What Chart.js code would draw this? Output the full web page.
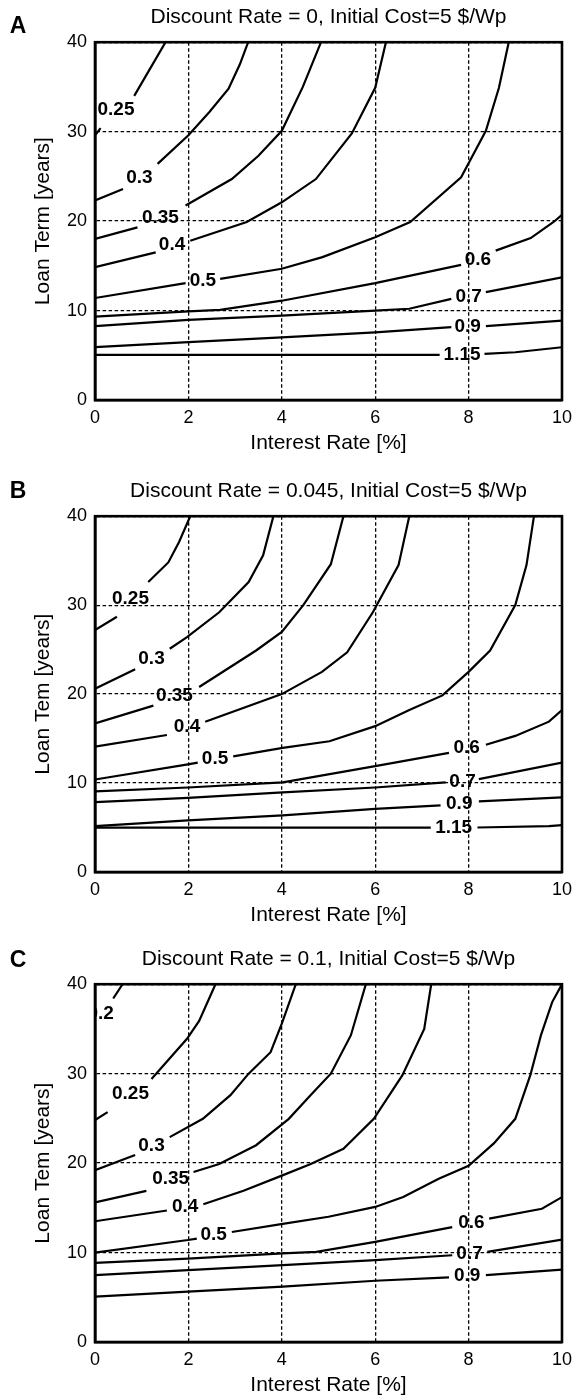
<!DOCTYPE html>
<html>
<head>
<meta charset="utf-8">
<title>Loan term vs interest rate</title>
<script src="https://cdn.jsdelivr.net/npm/chart.js@4.4.1/dist/chart.umd.min.js"></script>
<style>
  html, body { margin: 0; padding: 0; background: #fff; }
  #page { position: relative; width: 579px; height: 1398px; }
  .panel { position: absolute; left: 0; width: 579px; }
</style>
</head>
<body>
<div id="page">
  <div class="panel" style="top:0;height:465px"><canvas id="chart-a"></canvas></div>
  <div class="panel" style="top:465px;height:470px"><canvas id="chart-b"></canvas></div>
  <div class="panel" style="top:935px;height:463px"><canvas id="chart-c"></canvas></div>
</div>
<script>
// axis ticks
const xTicks = [0, 2, 4, 6, 8, 10]
const yTicks = [0, 10, 20, 30, 40]

// contour lines, [interest rate %, loan term years], null = gap for the label

// A: discount rate 0
const levelsA = ["0.25", "0.3", "0.35", "0.4", "0.5", "0.6", "0.7", "0.9", "1.15"]
const a025 = [[0, 29.6], [0.12, 30.4], null, [0.84, 34.0], [1.51, 40]]
const a030 = [[0, 22.3], [0.6, 23.6], null, [1.34, 26.4], [2, 29.6], [2.45, 32.2], [2.86, 34.8], [3.1, 37.5], [3.28, 40]]
const a035 = [[0, 18.0], [0.91, 19.3], null, [1.94, 21.75], [2.93, 24.7], [3.5, 27.3], [4, 30.1], [4.45, 35.0], [4.84, 40]]
const a040 = [[0, 14.86], [1.3, 16.5], null, [2.04, 17.8], [3.25, 19.9], [4, 22.1], [4.73, 24.7], [5.5, 29.8], [6, 34.9], [6.23, 40]]
const a050 = [[0, 11.4], [1.94, 13.07], null, [2.68, 13.55], [4, 14.67], [4.87, 15.97], [6, 18.2], [6.75, 19.9], [7.84, 24.9], [8.37, 30.1], [8.65, 34.9], [8.86, 40]]
const a060 = [[0, 9.33], [2, 9.9], [2.68, 10.07], [4, 11.1], [6, 13.06], [7.84, 15.1], null, [8.58, 16.7], [9.33, 18.1], [9.82, 19.9], [10, 20.7]]
const a070 = [[0, 8.25], [2, 8.96], [4, 9.44], [6, 10.0], [6.73, 10.2], [7.63, 11.3], null, [8.37, 12.06], [10, 13.7]]
const a090 = [[0, 5.9], [2, 6.46], [4, 7.0], [6, 7.57], [7.63, 8.14], null, [8.37, 8.25], [10, 8.88]]
const a115 = [[0, 5.04], [7.38, 5.04], null, [8.34, 5.15], [9, 5.34], [10, 5.9]]
const labelsA = [[0.45, 32.4], [0.95, 24.9], [1.4, 20.4], [1.65, 17.3], [2.31, 13.36], [8.2, 15.7], [8.0, 11.5], [7.98, 8.2], [7.86, 5.1]]

// B: discount rate 0.045
const levelsB = ["0.25", "0.3", "0.35", "0.4", "0.5", "0.6", "0.7", "0.9", "1.15"]
const b025 = [[0, 27.2], [0.47, 28.7], null, [1.14, 32.6], [1.57, 34.8], [1.8, 37.1], [2.04, 40]]
const b030 = [[0, 20.6], [0.86, 22.8], null, [1.6, 25.1], [1.97, 26.4], [2.66, 29.2], [3.29, 32.6], [3.6, 35.6], [3.82, 40]]
const b035 = [[0, 16.7], [1.25, 18.7], null, [2.23, 20.8], [3.45, 24.9], [4, 27.0], [4.46, 30.0], [5.05, 34.6], [5.32, 40]]
const b040 = [[0, 14.1], [1.54, 15.4], null, [2.36, 16.9], [4, 20.0], [4.86, 22.5], [5.4, 24.7], [5.95, 29.2], [6.5, 34.5], [6.73, 40]]
const b050 = [[0, 10.4], [1.99, 12.1], [2.2, 12.3], null, [2.96, 13.0], [4.02, 13.96], [5.02, 14.7], [6, 16.4], [6.73, 18.2], [7.44, 19.85], [8, 22.5], [8.46, 24.9], [9, 30.0], [9.24, 34.5], [9.4, 40]]
const b060 = [[0, 9.07], [1.99, 9.5], [4.02, 10.07], [6, 11.9], [7.58, 13.4], null, [8.37, 14.3], [9, 15.3], [9.72, 16.9], [10, 18.2]]
const b070 = [[0, 7.85], [1.99, 8.33], [4.02, 8.96], [6, 9.5], [7.51, 10.07], null, [8.22, 10.44], [10, 12.3]]
const b090 = [[0, 5.15], [1.99, 5.81], [4.02, 6.37], [6, 7.1], [7.4, 7.48], null, [8.22, 7.93], [10, 8.4]]
const b115 = [[0, 5.0], [7.19, 5.0], null, [8.19, 5.0], [9.72, 5.15], [10, 5.26]]
const labelsB = [[0.76, 30.7], [1.21, 24.0], [1.7, 19.8], [1.97, 16.3], [2.57, 12.7], [7.96, 14.0], [7.87, 10.2], [7.8, 7.7], [7.68, 5.0]]

// C: discount rate 0.1
const levelsC = ["0.2", "0.25", "0.3", "0.35", "0.4", "0.5", "0.6", "0.7", "0.9"]
const c020 = [[0.39, 38.4], [0.59, 40]]
const c025 = [[0, 24.8], [0.27, 25.7], null, [1.21, 29.4], [1.97, 33.9], [2.23, 35.9], [2.58, 40]]
const c030 = [[0, 19.2], [0.86, 20.9], null, [1.6, 22.9], [2.31, 24.95], [2.9, 27.6], [3.29, 30.0], [3.76, 32.4], [4, 35.6], [4.3, 40]]
const c035 = [[0, 15.6], [1.1, 16.9], null, [2.11, 19.0], [2.66, 19.9], [3.45, 22.0], [4.15, 24.95], [4.62, 27.6], [5.05, 30.0], [5.48, 34.3], [5.8, 40]]
const c040 = [[0, 13.5], [1.54, 14.7], null, [2.32, 15.4], [3.18, 16.9], [4, 18.6], [4.62, 19.9], [5.32, 21.6], [5.97, 24.95], [6.58, 29.8], [7.05, 35.0], [7.2, 40]]
const c050 = [[0, 10.0], [1.99, 11.4], [2.18, 11.56], null, [2.93, 12.3], [4.02, 13.2], [5, 14.0], [6, 15.1], [6.6, 16.2], [7.36, 18.25], [8, 19.7], [8.54, 22.2], [9, 24.95], [9.32, 29.8], [9.55, 34.3], [9.79, 38], [10, 40]]
const c060 = [[0, 8.85], [1.99, 9.33], [4.02, 9.9], [4.74, 10.07], [6, 11.2], [7.65, 12.85], null, [8.44, 13.8], [9.57, 14.9], [10, 16.2]]
const c070 = [[0, 7.48], [1.99, 8.04], [4.02, 8.6], [6, 9.15], [7.65, 9.7], null, [8.4, 10.07], [10, 11.44]]
const c090 = [[0, 5.07], [1.99, 5.63], [4.02, 6.19], [6, 6.85], [7.58, 7.22], null, [8.37, 7.48], [10, 8.1]]
const labelsC = [[0.12, 36.7], [0.76, 27.8], [1.21, 21.9], [1.62, 18.2], [1.93, 15.1], [2.54, 12.0], [8.06, 13.3], [8.02, 9.9], [7.97, 7.35]]

const FONT = '"Liberation Sans", Arial, Helvetica, sans-serif'
Chart.defaults.font.family = FONT
Chart.defaults.color = "#000"

// split each contour at its null into separate line datasets
function toDatasets(lines) {
  const sets = []
  lines.forEach(line => {
    let piece = []
    line.forEach(p => {
      if (p === null) {
        if (piece.length) sets.push(piece)
        piece = []
      } else {
        piece.push({ x: p[0], y: p[1] })
      }
    })
    if (piece.length) sets.push(piece)
  })
  return sets.map(data => ({
    data,
    borderColor: "#000",
    borderWidth: 2.2,
    pointRadius: 0,
    tension: 0,
    fill: false
  }))
}

// contour labels, the plot frame and the panel letter
const contourLabels = {
  id: "contourLabels",
  afterDatasetsDraw(chart, args, opts) {
    const { ctx, chartArea: a, scales: { x, y } } = chart
    ctx.save()
    ctx.beginPath()
    ctx.rect(a.left, a.top, a.right - a.left, a.bottom - a.top)
    ctx.clip()
    ctx.font = "bold 19px " + FONT
    ctx.fillStyle = "#000"
    ctx.textAlign = "center"
    ctx.textBaseline = "middle"
    opts.levels.forEach((t, i) => {
      const p = opts.positions[i]
      ctx.fillText(t, x.getPixelForValue(p[0]), y.getPixelForValue(p[1]))
    })
    ctx.restore()

    ctx.save()
    ctx.lineWidth = 2.6
    ctx.strokeStyle = "#000"
    ctx.strokeRect(a.left, a.top, a.right - a.left, a.bottom - a.top)
    ctx.font = "bold 23px " + FONT
    ctx.fillStyle = "#000"
    ctx.textAlign = "center"
    ctx.textBaseline = "middle"
    ctx.fillText(opts.letter, 18, opts.letterY)
    ctx.restore()
  }
}

function renderPanel(p) {
  new Chart(document.getElementById(p.id), {
    type: "line",
    data: { datasets: toDatasets(p.lines) },
    plugins: [contourLabels],
    options: {
      responsive: true,
      maintainAspectRatio: false,
      animation: false,
      events: [],
      layout: { padding: { top: 0, left: 0, right: 13, bottom: p.padBottom } },
      plugins: {
        legend: { display: false },
        tooltip: { enabled: false },
        title: {
          display: true,
          text: p.title,
          fullSize: false,
          color: "#000",
          font: { size: 21, weight: "normal" },
          padding: { top: p.plotTop - 37, bottom: 12 }
        },
        contourLabels: { levels: p.levels, positions: p.labels, letter: p.letter, letterY: p.letterY }
      },
      scales: {
        x: {
          type: "linear",
          min: 0,
          max: 10,
          afterBuildTicks: s => { s.ticks = xTicks.map(v => ({ value: v })) },
          afterFit: s => { s.height = 56 },
          grid: { color: "#000", lineWidth: 1.3, drawTicks: false },
          border: { color: "#000", width: 2.6, dash: [3.5, 2.5] },
          ticks: { color: "#000", font: { size: 18 }, padding: 7, maxRotation: 0, autoSkip: false },
          title: { display: true, text: "Interest Rate [%]", color: "#000", font: { size: 21 }, padding: 0 }
        },
        y: {
          type: "linear",
          min: 0,
          max: 40,
          afterBuildTicks: s => { s.ticks = yTicks.map(v => ({ value: v })) },
          afterFit: s => { s.width = 95 },
          grid: { color: "#000", lineWidth: 1.3, drawTicks: false },
          border: { color: "#000", width: 2.6, dash: [3.5, 2.5] },
          ticks: { color: "#000", font: { size: 18 }, padding: 8, autoSkip: false },
          title: { display: true, text: p.yTitle, color: "#000", font: { size: 21 }, padding: { top: 31, bottom: 0 } }
        }
      }
    }
  })
}

renderPanel({
  id: "chart-a", letter: "A", letterY: 27, plotTop: 42, padBottom: 9,
  title: "Discount Rate = 0, Initial Cost=5 $/Wp", yTitle: "Loan Term [years]",
  lines: [a025, a030, a035, a040, a050, a060, a070, a090, a115],
  levels: levelsA, labels: labelsA
})
renderPanel({
  id: "chart-b", letter: "B", letterY: 27, plotTop: 51, padBottom: 7,
  title: "Discount Rate = 0.045, Initial Cost=5 $/Wp", yTitle: "Loan Tem [years]",
  lines: [b025, b030, b035, b040, b050, b060, b070, b090, b115],
  levels: levelsB, labels: labelsB
})
renderPanel({
  id: "chart-c", letter: "C", letterY: 26, plotTop: 49, padBottom: 0,
  title: "Discount Rate = 0.1, Initial Cost=5 $/Wp", yTitle: "Loan Tem [years]",
  lines: [c020, c025, c030, c035, c040, c050, c060, c070, c090],
  levels: levelsC, labels: labelsC
})
</script>
</body>
</html>
